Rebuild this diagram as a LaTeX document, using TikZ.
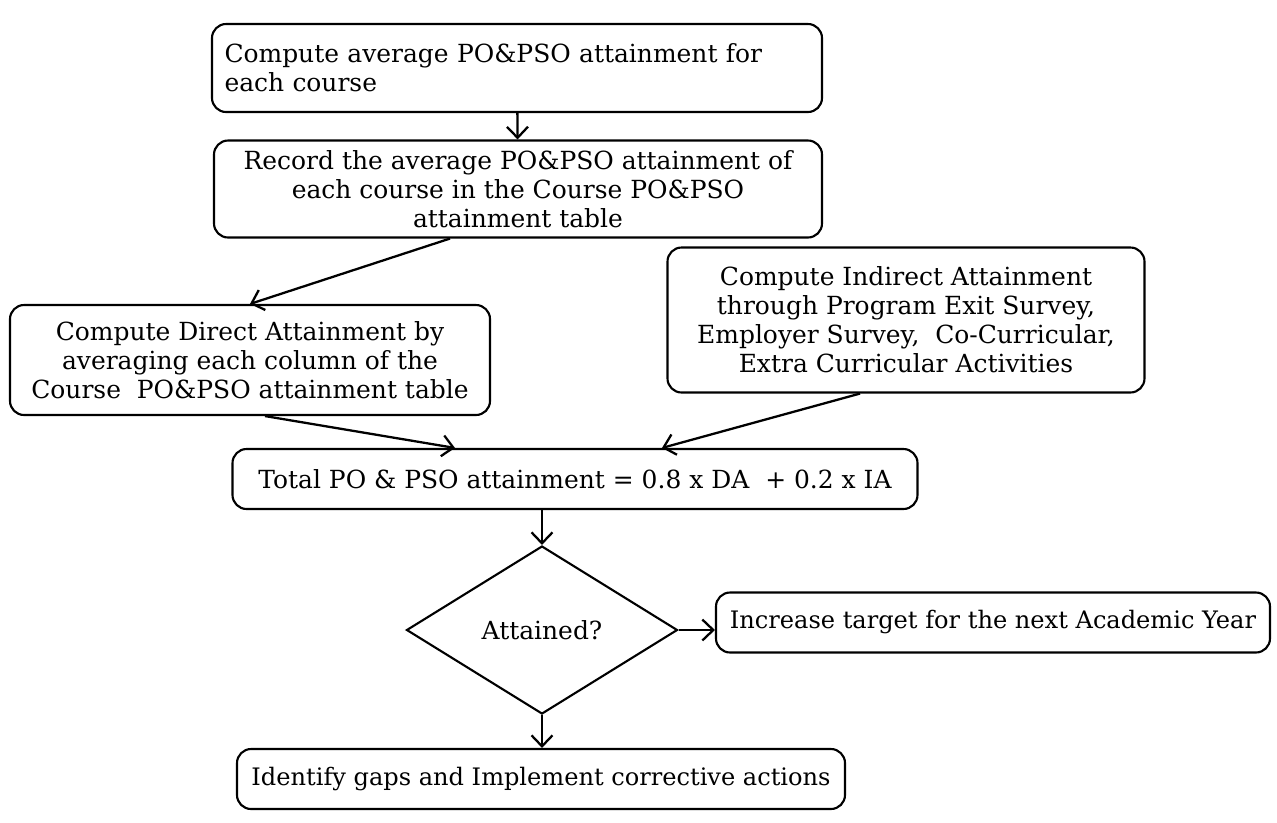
\documentclass[tikz,border=0pt]{standalone}
\usepackage{fontspec}
\setmainfont{DejaVu Serif}
\usetikzlibrary{shapes.geometric,arrows.meta}
\tikzset{
  stepbox/.style={draw,line width=1.2pt,rounded corners=8pt,align=center,inner xsep=2pt,inner ysep=4pt},
  decision/.style={draw,line width=1.2pt,diamond,inner sep=0pt},
  flow/.style={line width=1.3pt,-{Straight Barb[length=2.2mm,width=4.2mm]}},
}
\begin{document}
\begin{tikzpicture}[font=\fontsize{14.2}{16.5}\selectfont]
        \useasboundingbox (0,0) rectangle (25.54,-16.44);
        %% Course level steps
        \node[stepbox,minimum width=12.2cm,minimum height=1.76cm,text width=11.7cm,align=left] (avg) at (10.34,-1.36)
            {Compute average PO\&PSO attainment for\\each course};
        \node[stepbox,minimum width=12.16cm,minimum height=1.94cm] (record) at (10.36,-3.78)
            {Record the average PO\&PSO attainment of\\each course in the Course PO\&PSO\\attainment table};
        %% Direct and indirect attainment
        \node[stepbox,minimum width=9.6cm,minimum height=2.2cm] (direct) at (5.0,-7.2)
            {Compute Direct Attainment by\\averaging each column of the\\Course~~PO\&PSO attainment table};
        \node[stepbox,minimum width=9.54cm,minimum height=2.9cm] (indirect) at (18.12,-6.4)
            {Compute Indirect Attainment\\through Program Exit Survey,\\Employer Survey,~~Co-Curricular,\\Extra Curricular Activities};
        %% Total
        \node[stepbox,minimum width=13.7cm,minimum height=1.2cm] (total) at (11.5,-9.58)
            {Total PO \& PSO attainment = 0.8 x DA~~+ 0.2 x IA};
        %% Decision and outcomes
        \node[decision,minimum width=5.42cm,minimum height=3.36cm,aspect=1.61] (attained) at (10.84,-12.6) {Attained?};
        \node[stepbox,minimum width=11.08cm,minimum height=1.2cm,font=\fontsize{13.7}{16.5}\selectfont] (increase) at (19.86,-12.45)
            {Increase target for the next Academic Year};
        \node[stepbox,minimum width=12.16cm,minimum height=1.2cm,font=\fontsize{13.7}{16.5}\selectfont] (gaps) at (10.82,-15.58)
            {Identify gaps and Implement corrective actions};
        %% Connectors
        \draw[flow] (avg) -- (record);
        \draw[flow] ([xshift=-1.36cm]record.south) -- (direct.north);
        \draw[flow] ([xshift=0.3cm]direct.south) -- ([xshift=-2.4cm]total.north);
        \draw[flow] ([xshift=-0.92cm]indirect.south) -- ([xshift=1.74cm]total.north);
        \draw[flow] (total.south -| attained.north) -- (attained.north);
        \draw[flow] (attained.east) -- (attained.east -| increase.west);
        \draw[flow] (attained.south) -- (attained.south |- gaps.north);
    \end{tikzpicture}
\end{document}
